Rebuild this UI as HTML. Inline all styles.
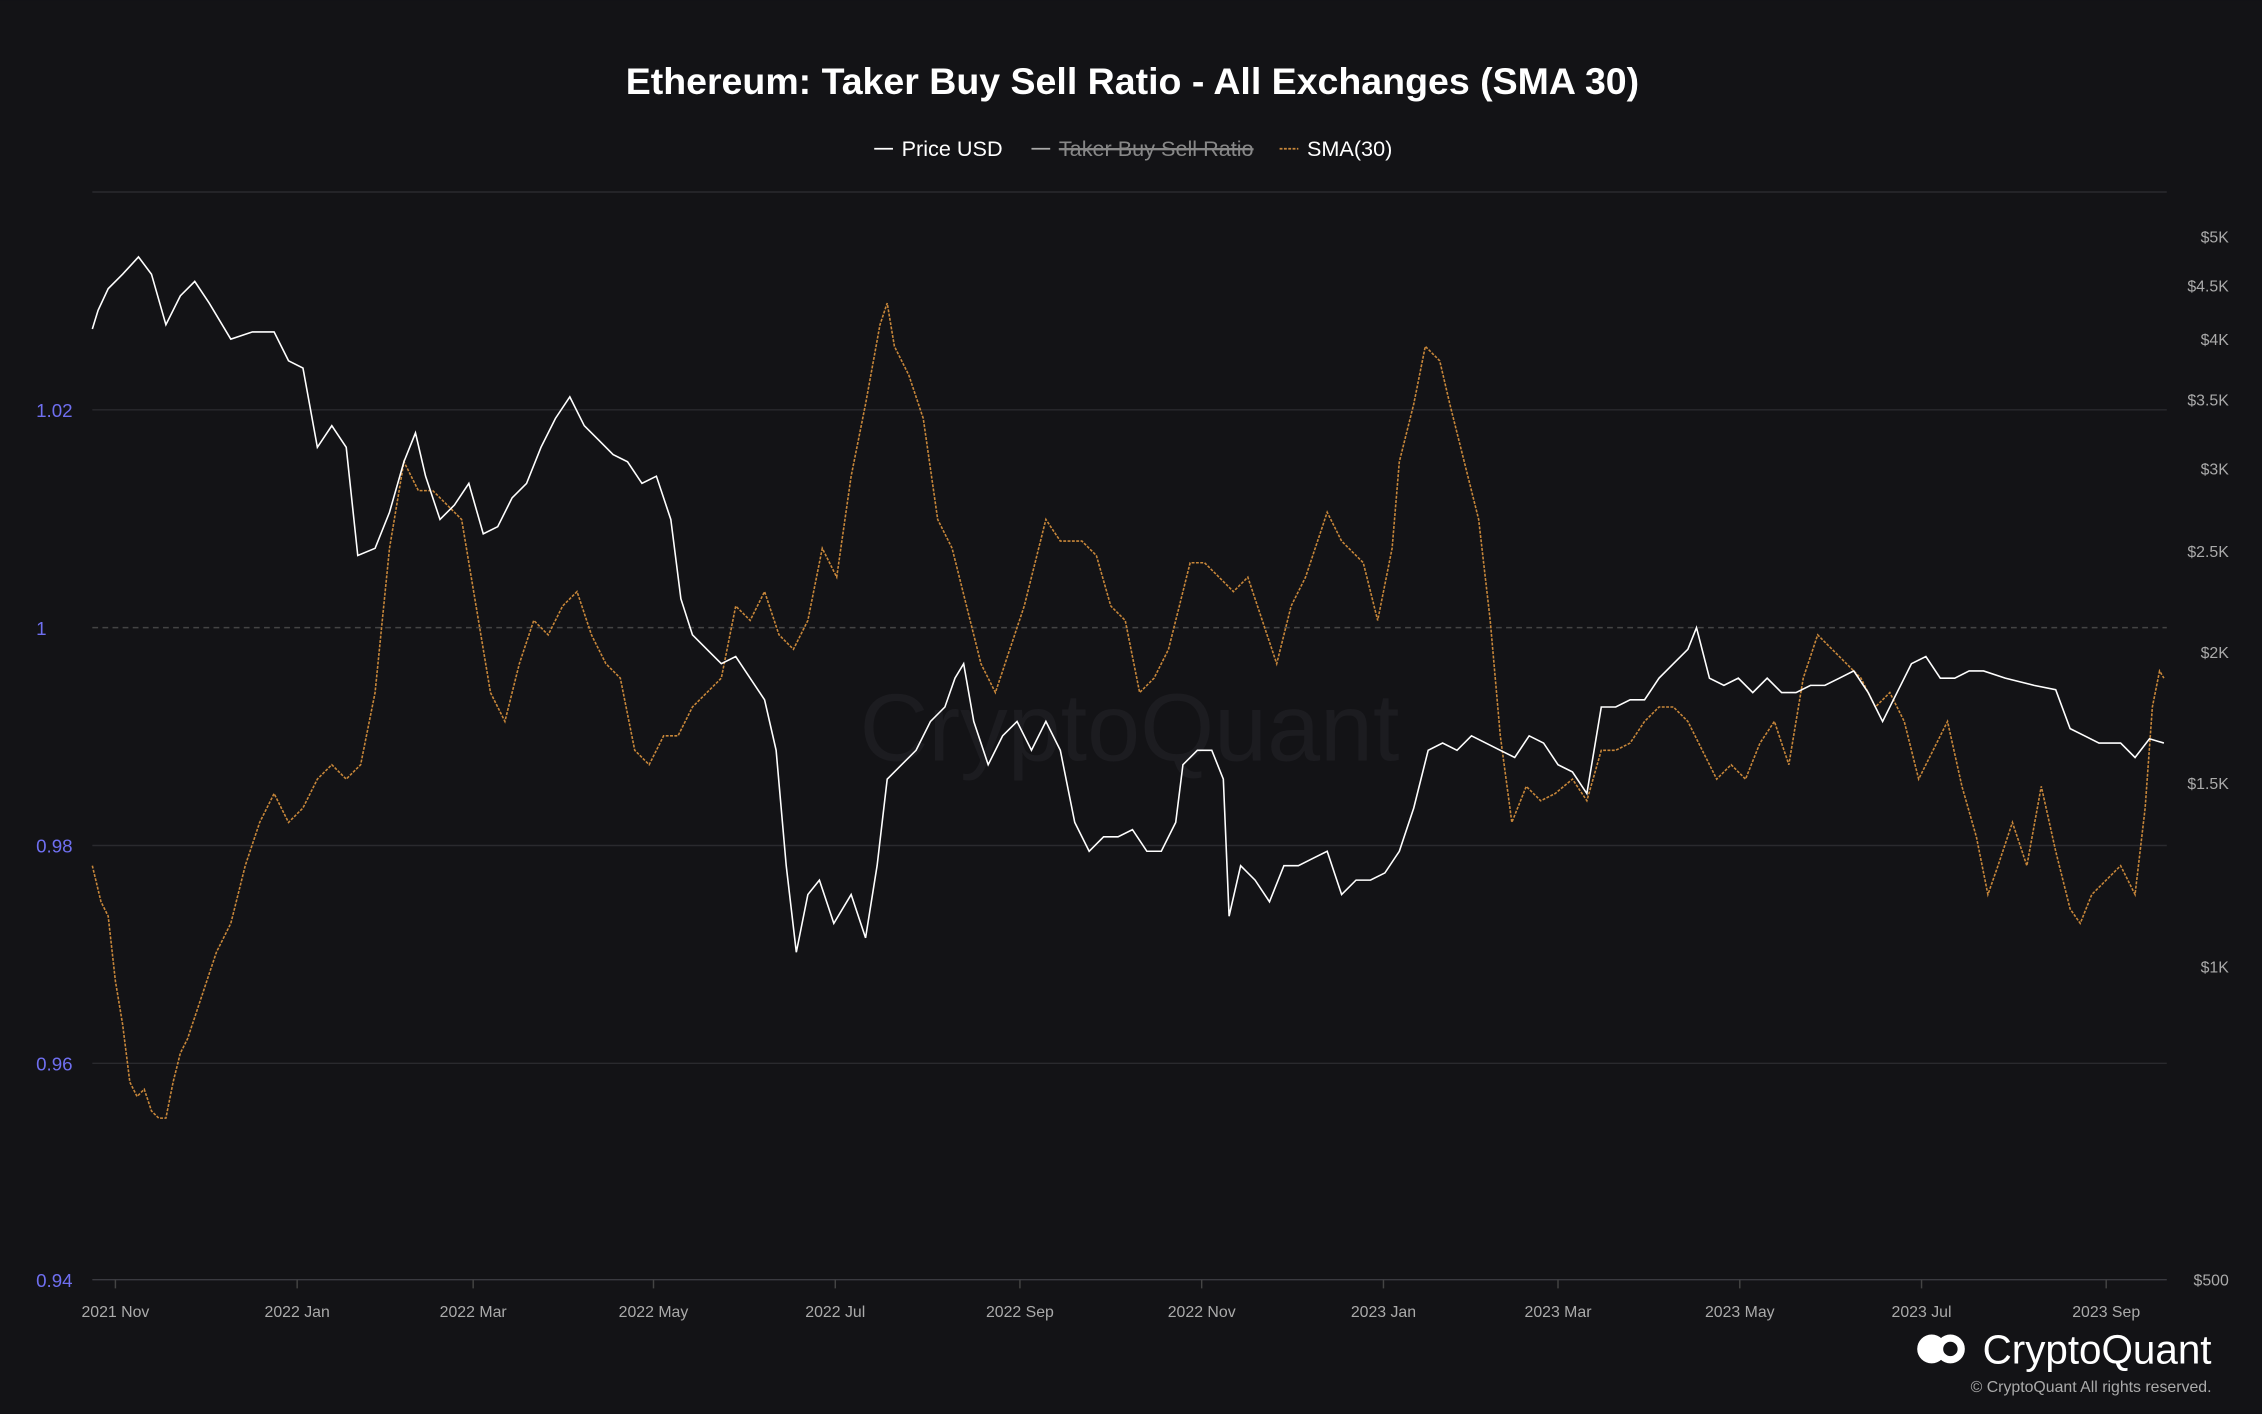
<!DOCTYPE html>
<html><head><meta charset="utf-8"><style>
html,body{margin:0;padding:0;background:#131316;}
svg{display:block}
text{font-family:"Liberation Sans",sans-serif}
</style></head><body>
<svg width="2262" height="1414" viewBox="0 0 1568 980" xmlns="http://www.w3.org/2000/svg">
<rect width="1568" height="980" fill="#131316"/>
<text x="785" y="65" fill="#fff" font-size="26" font-weight="bold" text-anchor="middle">Ethereum: Taker Buy Sell Ratio - All Exchanges (SMA 30)</text>
<line x1="606" y1="103" x2="619" y2="103" stroke="#fff" stroke-width="1.2"/>
<text x="625" y="108" fill="#fff" font-size="15">Price USD</text>
<line x1="715" y1="103" x2="728" y2="103" stroke="#aaa" stroke-width="1.2"/>
<text x="734" y="108" fill="#888" font-size="15" text-decoration="line-through">Taker Buy Sell Ratio</text>
<line x1="734" y1="103" x2="866" y2="103" stroke="#888" stroke-width="1"/>
<line x1="887" y1="103" x2="900" y2="103" stroke="#c8873a" stroke-width="1.2" stroke-dasharray="2,1"/>
<text x="906" y="108" fill="#fff" font-size="15">SMA(30)</text>
<g stroke="#2a2a2e" stroke-width="1">
<line x1="64" y1="133" x2="1502" y2="133"/>
<line x1="64" y1="284" x2="1502" y2="284"/>
<line x1="64" y1="586" x2="1502" y2="586"/>
<line x1="64" y1="737" x2="1502" y2="737"/>
<line x1="64" y1="887" x2="1502" y2="887" stroke="#3a3a40"/>
</g>
<line x1="64" y1="435" x2="1502" y2="435" stroke="#444" stroke-dasharray="4,3"/>
<g fill="#6f6ff0" font-size="13">
<text x="25" y="289">1.02</text><text x="25" y="440">1</text><text x="25" y="591">0.98</text><text x="25" y="742">0.96</text><text x="25" y="892">0.94</text>
</g>
<g fill="#aaa" font-size="11" text-anchor="end">
<text x="1545" y="168">$5K</text><text x="1545" y="202">$4.5K</text><text x="1545" y="239">$4K</text><text x="1545" y="281">$3.5K</text><text x="1545" y="329">$3K</text><text x="1545" y="386">$2.5K</text><text x="1545" y="456">$2K</text><text x="1545" y="547">$1.5K</text><text x="1545" y="674">$1K</text><text x="1545" y="891">$500</text>
</g>
<g fill="#aaa" font-size="11" text-anchor="middle">
<text x="80" y="913">2021 Nov</text><text x="206" y="913">2022 Jan</text><text x="328" y="913">2022 Mar</text><text x="453" y="913">2022 May</text><text x="579" y="913">2022 Jul</text><text x="707" y="913">2022 Sep</text><text x="833" y="913">2022 Nov</text><text x="959" y="913">2023 Jan</text><text x="1080" y="913">2023 Mar</text><text x="1206" y="913">2023 May</text><text x="1332" y="913">2023 Jul</text><text x="1460" y="913">2023 Sep</text>
</g>
<g stroke="#444" stroke-width="1">
<line x1="80" y1="887" x2="80" y2="893"/><line x1="206" y1="887" x2="206" y2="893"/><line x1="328" y1="887" x2="328" y2="893"/><line x1="453" y1="887" x2="453" y2="893"/><line x1="579" y1="887" x2="579" y2="893"/><line x1="707" y1="887" x2="707" y2="893"/><line x1="833" y1="887" x2="833" y2="893"/><line x1="959" y1="887" x2="959" y2="893"/><line x1="1080" y1="887" x2="1080" y2="893"/><line x1="1206" y1="887" x2="1206" y2="893"/><line x1="1332" y1="887" x2="1332" y2="893"/><line x1="1460" y1="887" x2="1460" y2="893"/>
</g>
<text x="783" y="527" fill="#1c1c20" font-size="66" text-anchor="middle">CryptoQuant</text>
<polyline fill="none" stroke="#c8873a" stroke-width="1.1" stroke-dasharray="2,1" points="64,600 70,625 75,635 80,680 85,710 90,750 95,760 100,755 105,770 110,775 115,775 120,750 125,730 130,720 140,690 150,660 160,640 170,600 180,570 190,550 200,570 210,560 220,540 230,530 240,540 250,530 260,480 270,380 280,320 290,340 300,340 310,350 320,360 330,420 340,480 350,500 360,460 370,430 380,440 390,420 400,410 410,440 420,460 430,470 440,520 450,530 460,510 470,510 480,490 490,480 500,470 510,420 520,430 530,410 540,440 550,450 560,430 570,380 580,400 590,330 600,280 610,225 615,210 620,240 630,260 640,290 650,360 660,380 670,420 680,460 690,480 700,450 710,420 720,380 725,360 735,375 750,375 760,385 770,420 780,430 790,480 800,470 810,450 820,410 825,390 835,390 845,400 855,410 865,400 875,430 885,460 895,420 905,400 915,370 920,355 930,375 945,390 955,430 965,380 970,320 980,280 988,240 998,250 1005,280 1015,320 1025,360 1033,430 1040,510 1048,570 1058,545 1068,555 1078,550 1090,540 1100,555 1110,520 1120,520 1130,515 1140,500 1150,490 1160,490 1170,500 1180,520 1190,540 1200,530 1210,540 1220,515 1230,500 1240,530 1250,470 1260,440 1270,450 1280,460 1290,470 1300,490 1310,480 1320,500 1330,540 1340,520 1350,500 1360,545 1370,580 1378,620 1385,600 1395,570 1405,600 1415,545 1425,590 1435,630 1442,640 1450,620 1460,610 1470,600 1480,620 1487,560 1492,490 1497,465 1500,470"/>
<polyline fill="none" stroke="#fff" stroke-width="1.1" points="64,228 68,215 75,200 85,190 96,178 105,190 115,225 125,205 135,195 145,210 160,235 175,230 190,230 200,250 210,255 220,310 230,295 240,310 248,385 260,380 270,355 280,320 288,300 295,330 305,360 315,350 325,335 335,370 345,365 355,345 365,335 375,310 385,290 395,275 405,295 415,305 425,315 435,320 445,335 455,330 465,360 472,415 480,440 490,450 500,460 510,455 520,470 530,485 538,520 545,600 552,660 560,620 568,610 578,640 590,620 600,650 608,600 615,540 625,530 635,520 645,500 655,490 662,470 668,460 675,500 685,530 695,510 705,500 715,520 725,500 735,520 745,570 755,590 765,580 775,580 785,575 795,590 805,590 815,570 820,530 830,520 840,520 848,540 852,635 860,600 870,610 880,625 890,600 900,600 910,595 920,590 930,620 940,610 950,610 960,605 970,590 980,560 990,520 1000,515 1010,520 1020,510 1030,515 1040,520 1050,525 1060,510 1070,515 1080,530 1090,535 1100,550 1110,490 1120,490 1130,485 1140,485 1150,470 1160,460 1170,450 1176,435 1185,470 1195,475 1205,470 1215,480 1225,470 1235,480 1245,480 1255,475 1265,475 1275,470 1285,465 1295,480 1305,500 1315,480 1325,460 1335,455 1345,470 1355,470 1365,465 1375,465 1390,470 1410,475 1425,478 1435,505 1445,510 1455,515 1470,515 1480,525 1490,512 1500,515"/>
<circle cx="1339" cy="935" r="10" fill="#fff"/>
<circle cx="1352" cy="935" r="10" fill="#fff"/>
<circle cx="1352" cy="935" r="5" fill="#131316"/>
<text x="1533" y="945" fill="#fff" font-size="28" text-anchor="end">CryptoQuant</text>
<text x="1533" y="965" fill="#aaa" font-size="11" text-anchor="end">© CryptoQuant All rights reserved.</text>
</svg>
</body></html>
